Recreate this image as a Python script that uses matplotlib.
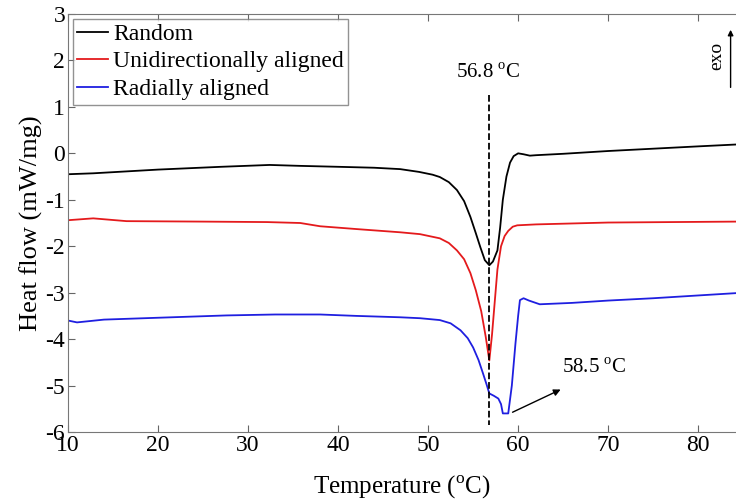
import matplotlib.pyplot as plt

plt.rcParams['font.family'] = ['Liberation Serif', 'DejaVu Serif']
plt.rcParams['axes.unicode_minus'] = False
plt.rcParams['mathtext.fontset'] = 'custom'
plt.rcParams['mathtext.rm'] = 'Liberation Serif'

# DSC curves
t_random = [10, 12.8, 20, 27, 32.4, 35.8, 40, 44, 46.9, 49, 50.5, 51.3, 52.3, 53.2, 54.0, 54.7, 55.3, 55.8,
            56.3, 56.8, 57.2, 57.7, 58.0, 58.3, 58.7, 59.1, 59.5, 60.0, 60.6, 61.3, 62, 65, 70, 75, 80, 84.2]
hf_random = [-0.45, -0.43, -0.35, -0.29, -0.25, -0.27, -0.29, -0.31, -0.34, -0.40, -0.46, -0.51, -0.62, -0.79,
             -1.03, -1.37, -1.72, -2.02, -2.3, -2.41, -2.33, -2.09, -1.6, -1.0, -0.5, -0.2, -0.06, 0.0, -0.02,
             -0.05, -0.04, -0.01, 0.05, 0.10, 0.15, 0.19]

t_uni = [10, 12.8, 16.5, 25, 32.1, 35.8, 38, 42, 46.9, 49.1, 51.3, 52.3, 53.2, 54.0, 54.7, 55.3, 55.9, 56.4,
         56.8, 57.1, 57.4, 57.7, 58.1, 58.5, 58.9, 59.4, 59.9, 62, 70, 84.2]
hf_uni = [-1.44, -1.40, -1.46, -1.47, -1.48, -1.50, -1.57, -1.63, -1.70, -1.74, -1.83, -1.93, -2.09, -2.28,
          -2.58, -2.95, -3.4, -3.95, -4.46, -3.9, -3.2, -2.5, -2.0, -1.78, -1.67, -1.58, -1.55, -1.53, -1.49, -1.47]

t_radial = [10, 11, 14, 20, 27.6, 33, 38, 42, 46.9, 49.1, 51.3, 52.5, 53.6, 54.4, 55.0, 55.6, 56.1, 56.5,
            56.8, 57.3, 57.8, 58.1, 58.3, 58.9, 59.3, 59.7, 60.0, 60.2, 60.6, 61.2, 62.4, 66, 70, 75, 80, 84.2]
hf_radial = [-3.6, -3.64, -3.58, -3.54, -3.49, -3.47, -3.47, -3.50, -3.53, -3.55, -3.59, -3.66, -3.81, -3.98,
             -4.18, -4.45, -4.74, -4.98, -5.17, -5.22, -5.28, -5.4, -5.6, -5.6, -5.0, -4.1, -3.5, -3.16, -3.12,
             -3.17, -3.25, -3.22, -3.17, -3.12, -3.06, -3.01]

labels = ['Random', 'Unidirectionally aligned', 'Radially aligned']
colors = ['#000000', '#e41a1c', '#1f1fe0']

fig = plt.figure(figsize=(7.36, 5.0), dpi=100)
ax = fig.add_axes([0.0924, 0.136, 0.9076, 0.836])

ax.plot(t_random, hf_random, color=colors[0], lw=1.3, label=labels[0])
ax.plot(t_uni, hf_uni, color=colors[1], lw=1.3, label=labels[1])
ax.plot(t_radial, hf_radial, color=colors[2], lw=1.3, label=labels[2])

# peak marker
ax.plot([56.8, 56.8], [1.25, -5.85], ls='--', color='black', lw=1.3)
ax.text(56.7, 1.73, '56.8 $^{\\mathrm{o}}$C', ha='center', va='center', fontsize=15)
ax.annotate('', xy=(65.0, -5.06), xytext=(59.1, -5.6),
            arrowprops=dict(arrowstyle='-|>', color='black', lw=1.0, mutation_scale=10))
ax.text(64.9, -4.63, '58.5 $^{\\mathrm{o}}$C', ha='left', va='center', fontsize=15)

# exo arrow
ax.annotate('', xy=(83.6, 2.72), xytext=(83.6, 1.36),
            arrowprops=dict(arrowstyle='-|>', color='black', lw=1.0, mutation_scale=8))
ax.text(82.1, 2.1, 'exo', rotation=90, ha='center', va='center', fontsize=14)

ax.set_xlim(10, 84.2)
ax.set_ylim(-6, 3)
ax.set_xticks([10, 20, 30, 40, 50, 60, 70, 80])
ax.set_yticks(range(-6, 4))
ax.tick_params(direction='in', top=True, right=False, labelsize=17, length=5, color='#666666', pad=2)
for s in ax.spines.values():
    s.set_color('#777777')
ax.spines['right'].set_visible(False)

ax.set_xlabel('Temperature ($^{\\mathrm{o}}$C)', fontsize=18, labelpad=13)
ax.set_ylabel('Heat flow (mW/mg)', fontsize=19, labelpad=2)

leg = ax.legend(loc='upper left', fontsize=17, frameon=True, fancybox=False,
                handlelength=1.3, handletextpad=0.2, borderpad=0.2, labelspacing=0.25,
                borderaxespad=0.2)
leg.get_frame().set_edgecolor('#777777')
leg.get_frame().set_linewidth(1.0)

fig.savefig('out.png', dpi=100)
